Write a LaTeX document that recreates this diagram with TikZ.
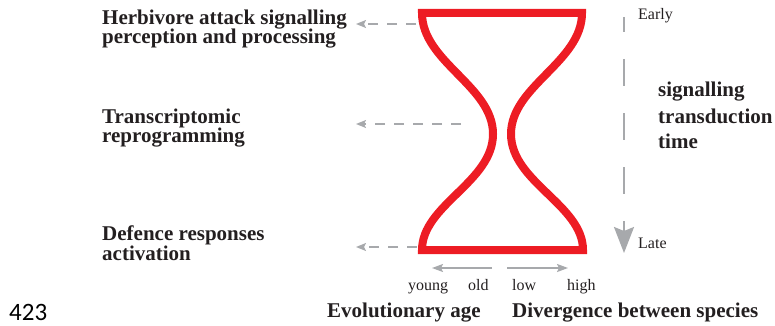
\documentclass[tikz,border=0pt]{standalone}
\usepackage{fontspec}
\setmainfont{Liberation Serif}
\newfontfamily\numfont{Carlito}
\usetikzlibrary{arrows.meta}
\definecolor{hgred}{HTML}{ED1C24}
\definecolor{lgray}{HTML}{A7A9AC}
\definecolor{txt}{HTML}{231F20}
\begin{document}
\begin{tikzpicture}[x=1pt,y=-1pt,
  lbl/.style={font=\fontsize{21}{21}\selectfont\bfseries, text=txt, anchor=base west, inner sep=0pt},
  small/.style={font=\fontsize{16}{16}\selectfont, text=txt, anchor=base west, inner sep=0pt},
  dasharrow/.style={draw=lgray, line width=1.4pt, dash pattern=on 10pt off 9pt, -{Stealth[length=10pt,width=8pt,inset=2pt]}},
  axisarrow/.style={draw=lgray, line width=1.8pt, -{Stealth[length=11pt,width=8pt,inset=2pt]}},
  timearrow/.style={draw=lgray, line width=2.2pt, dash pattern=on 27pt off 27pt, dash phase=12pt, -{Stealth[length=26pt,width=20pt,inset=4pt]}}]
\useasboundingbox (0,0) rectangle (775,326);
% hourglass
\coordinate (tl) at (422,13);
\coordinate (tr) at (582,13);
\coordinate (br) at (583,250);
\coordinate (bl) at (422,250);
\coordinate (nl) at (493,134);
\coordinate (nr) at (511,134);
\draw[hgred, line width=8pt, line join=miter]
  (tl) -- (tr) .. controls (582,62) and (511,86) .. (nr)
  .. controls (511,182) and (583,205) .. (br) -- (bl)
  .. controls (422,205) and (493,182) .. (nl)
  .. controls (493,86) and (422,62) .. cycle;
% left labels
\node[lbl] (h1) at (102,25) {Herbivore attack signalling};
\node[lbl] (h2) at (102,44) {perception and processing};
\node[lbl] (t1) at (102,123) {Transcriptomic};
\node[lbl] (t2) at (102,142) {reprogramming};
\node[lbl] (d1) at (102,240) {Defence responses};
\node[lbl] (d2) at (102,260) {activation};
% dashed pointers
\coordinate (a1s) at (416,24);
\coordinate (a1e) at (356,24);
\coordinate (a2s) at (461,124);
\coordinate (a2e) at (356,124);
\coordinate (a3s) at (417,247);
\coordinate (a3e) at (356,247);
\draw[dasharrow] (a1s) -- (a1e);
\draw[dasharrow] (a2s) -- (a2e);
\draw[dasharrow] (a3s) -- (a3e);
% time arrow
\coordinate (ts) at (624,17);
\coordinate (te) at (624,253);
\draw[timearrow] (ts) -- (te);
\node[small] (early) at (638,20) {Early};
\node[small] (late) at (638,248) {Late};
\node[lbl] (s1) at (658,97) {signalling};
\node[lbl] (s2) at (658,123) {transduction};
\node[lbl] (s3) at (658,148) {time};
% bottom axes
\coordinate (ea) at (492,268);
\coordinate (eb) at (432,268);
\coordinate (da) at (507,268);
\coordinate (db) at (568,268);
\draw[axisarrow] (ea) -- (eb);
\draw[axisarrow] (da) -- (db);
\node[small] (young) at (408,290) {young};
\node[small] (old) at (468,290) {old};
\node[small] (low) at (512,290) {low};
\node[small] (high) at (567,290) {high};
\node[lbl] (evo) at (327,317) {Evolutionary age};
\node[lbl] (div) at (512,317) {Divergence between species};
\node[anchor=base west, inner sep=0pt, font=\numfont\fontsize{25}{25}\selectfont] (num) at (9,320) {423};
\end{tikzpicture}
\end{document}
